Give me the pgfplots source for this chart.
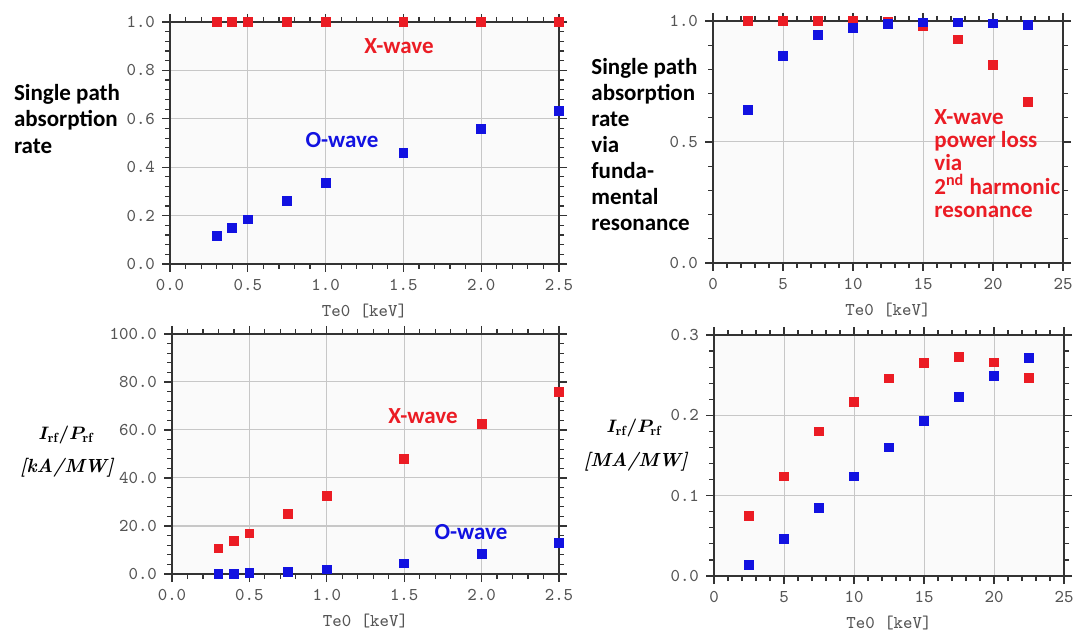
\documentclass[border=0pt]{standalone}
\usepackage{pgfplots}
\pgfplotsset{compat=1.18}
\usepackage{fontspec}
\newfontfamily\calb{Carlito}[BoldFont={Carlito Bold}]
\definecolor{xred}{RGB}{235,28,36}
\definecolor{oblue}{RGB}{18,18,225}
\definecolor{tickgray}{RGB}{85,85,85}

\pgfplotsset{
  panel/.style={
    scale only axis, anchor=south west,
    axis background/.style={fill=black!2},
    grid=major, major grid style={black!22, line width=0.5pt},
    axis line style={black!80, line width=0.9pt},
    tick style={black!80, line width=0.6pt},
    tick align=outside, major tick length=4pt, minor tick length=2.5pt,
    minor tick num=4, clip=false,
    /pgf/number format/assume math mode=true,
    ticklabel style={font=\ttfamily\fontsize{9}{10}\selectfont, text=tickgray},
    xlabel style={font=\ttfamily\fontsize{9}{10}\selectfont, text=tickgray},
    xlabel={Te0 [keV]},
  },
  dots/.style={only marks, mark=square*, mark size=2.2pt},
  onedec/.style={/pgf/number format/.cd, fixed, fixed zerofill, precision=1},
}
\newcommand{\ann}{\calb\bfseries\fontsize{11.5}{13}\selectfont}
\newcommand{\mfont}{\fontsize{9.5}{11}\selectfont\boldmath}

\begin{document}
\begin{tikzpicture}
\path[use as bounding box] (0,0) rectangle (538pt,318.5pt);

% top left: absorption, low Te
\begin{axis}[panel, at={(85pt,186.5pt)}, width=194.5pt, height=121pt,
  xmin=0, xmax=2.5, ymin=0, ymax=1,
  xtick={0,0.5,...,2.5}, ytick={0,0.2,...,1.0},
  xticklabel style={onedec}, yticklabel style={onedec}]
\addplot[dots, color=xred] coordinates {
  (0.3,1)(0.4,1)(0.5,1)(0.75,1)(1.0,1)(1.5,1)(2.0,1)(2.5,1)};
\addplot[dots, color=oblue] coordinates {
  (0.3,0.115)(0.4,0.149)(0.5,0.184)(0.75,0.262)(1.0,0.336)(1.5,0.459)(2.0,0.557)(2.5,0.633)};
\end{axis}

% top right: absorption, high Te
\begin{axis}[panel, at={(356.5pt,187pt)}, width=175pt, height=121pt,
  xmin=0, xmax=25, ymin=0, ymax=1,
  xtick={0,5,...,25}, ytick={0,0.5,1},
  yticklabel style={onedec}]
\addplot[dots, color=xred] coordinates {
  (2.5,1)(5,1)(7.5,1)(10,1)(12.5,0.995)(15,0.978)(17.5,0.924)(20,0.818)(22.5,0.666)};
\addplot[dots, color=oblue] coordinates {
  (2.5,0.632)(5,0.855)(7.5,0.942)(10,0.972)(12.5,0.988)(15,0.994)(17.5,0.994)(20,0.99)(22.5,0.983)};
\end{axis}

% bottom left: current drive efficiency, low Te
\begin{axis}[panel, at={(86pt,31.5pt)}, width=193.5pt, height=120pt,
  xmin=0, xmax=2.5, ymin=0, ymax=100,
  xtick={0,0.5,...,2.5}, ytick={0,20,...,100},
  xticklabel style={onedec}, yticklabel style={onedec}]
\addplot[dots, color=xred] coordinates {
  (0.3,10.7)(0.4,13.8)(0.5,16.9)(0.75,25)(1.0,32.6)(1.5,47.9)(2.0,62.4)(2.5,76)};
\addplot[dots, color=oblue] coordinates {
  (0.3,0)(0.4,0)(0.5,0.3)(0.75,0.8)(1.0,1.9)(1.5,4.4)(2.0,8.3)(2.5,13)};
\end{axis}

% bottom right: current drive efficiency, high Te
\begin{axis}[panel, at={(357pt,30.5pt)}, width=175pt, height=120.5pt,
  xmin=0, xmax=25, ymin=0, ymax=0.3,
  xtick={0,5,...,25}, ytick={0,0.1,0.2,0.3},
  yticklabel style={onedec}]
\addplot[dots, color=xred] coordinates {
  (2.5,0.075)(5,0.124)(7.5,0.180)(10,0.217)(12.5,0.246)(15,0.265)(17.5,0.273)(20,0.266)(22.5,0.247)};
\addplot[dots, color=oblue] coordinates {
  (2.5,0.014)(5,0.046)(7.5,0.085)(10,0.124)(12.5,0.160)(15,0.193)(17.5,0.223)(20,0.249)(22.5,0.271)};
\end{axis}

% annotations
\node[anchor=west, align=left, inner sep=0pt, font=\ann\fontsize{11.5}{13.3}\selectfont] at (6.8pt,259pt)
  {Single path\\absorption\\rate};
\node[font=\ann, text=xred] at (199.5pt,295.5pt) {X-wave};
\node[font=\ann, text=oblue] at (171pt,248.5pt) {O-wave};
\node[anchor=west, align=left, inner sep=0pt, font=\ann\fontsize{11.5}{13}\selectfont] at (295.5pt,246.25pt)
  {Single path\\absorption\\rate\\via\\funda-\\mental\\resonance};
\node[anchor=west, align=left, inner sep=0pt, font=\ann\fontsize{11.5}{11.7}\selectfont, text=xred] at (467pt,236.75pt)
  {X-wave\\power loss\\via\\2\smash{\textsuperscript{nd}} harmonic\\resonance};
\node[font=\ann, text=xred] at (211.5pt,110.5pt) {X-wave};
\node[font=\ann, text=oblue] at (235.5pt,52.5pt) {O-wave};
\node[font=\mfont] at (33pt,101pt) {$I_{\mathrm{rf}}/P_{\mathrm{rf}}$};
\node[font=\mfont] at (33.5pt,84.5pt) {\textbf{\textit{[kA/MW]}}};
\node[font=\mfont] at (317pt,104.5pt) {$I_{\mathrm{rf}}/P_{\mathrm{rf}}$};
\node[font=\mfont] at (318pt,87.5pt) {\textbf{\textit{[MA/MW]}}};
\end{tikzpicture}
\end{document}
